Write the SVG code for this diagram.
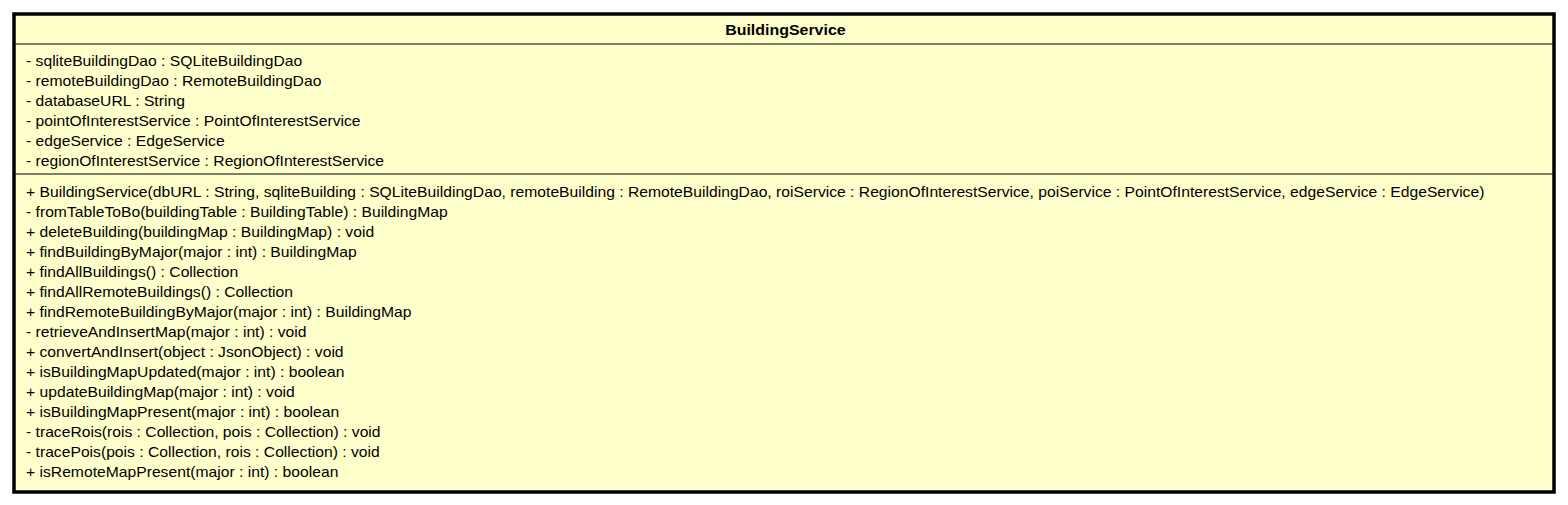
<svg xmlns="http://www.w3.org/2000/svg" width="1568" height="505" viewBox="0 0 1568 505">
<style>
.t{font-family:"Liberation Sans",Arial,sans-serif;font-size:14px;fill:#000}
.b{font-weight:bold;text-anchor:middle}
.sep{stroke:#000;stroke-width:1}
</style>
<rect width="1568" height="505" fill="#fff"/>
<g id="BuildingService">
<rect x="14" y="14" width="1540" height="478" fill="#FFFFCC" stroke="#000" stroke-width="3.5"/>
<text class="t b" x="0" y="35" transform="translate(785.4,0) scale(1.14,1)">BuildingService</text>
<line class="sep" x1="14" y1="44" x2="1554" y2="44"/>
<line class="sep" x1="14" y1="174" x2="1554" y2="174"/>
<g class="t" transform="translate(26,0) scale(1.12,1)">
<text x="0" y="66">- sqliteBuildingDao : SQLiteBuildingDao</text>
<text x="0" y="86">- remoteBuildingDao : RemoteBuildingDao</text>
<text x="0" y="106">- databaseURL : String</text>
<text x="0" y="126">- pointOfInterestService : PointOfInterestService</text>
<text x="0" y="146">- edgeService : EdgeService</text>
<text x="0" y="166">- regionOfInterestService : RegionOfInterestService</text>
<text x="0" y="197">+ BuildingService(dbURL : String, sqliteBuilding : SQLiteBuildingDao, remoteBuilding : RemoteBuildingDao, roiService : RegionOfInterestService, poiService : PointOfInterestService, edgeService : EdgeService)</text>
<text x="0" y="217">- fromTableToBo(buildingTable : BuildingTable) : BuildingMap</text>
<text x="0" y="237">+ deleteBuilding(buildingMap : BuildingMap) : void</text>
<text x="0" y="257">+ findBuildingByMajor(major : int) : BuildingMap</text>
<text x="0" y="277">+ findAllBuildings() : Collection</text>
<text x="0" y="297">+ findAllRemoteBuildings() : Collection</text>
<text x="0" y="317">+ findRemoteBuildingByMajor(major : int) : BuildingMap</text>
<text x="0" y="337">- retrieveAndInsertMap(major : int) : void</text>
<text x="0" y="357">+ convertAndInsert(object : JsonObject) : void</text>
<text x="0" y="377">+ isBuildingMapUpdated(major : int) : boolean</text>
<text x="0" y="397">+ updateBuildingMap(major : int) : void</text>
<text x="0" y="417">+ isBuildingMapPresent(major : int) : boolean</text>
<text x="0" y="437">- traceRois(rois : Collection, pois : Collection) : void</text>
<text x="0" y="457">- tracePois(pois : Collection, rois : Collection) : void</text>
<text x="0" y="477">+ isRemoteMapPresent(major : int) : boolean</text>
</g>
</g>
<g id="connectors"/>
</svg>
